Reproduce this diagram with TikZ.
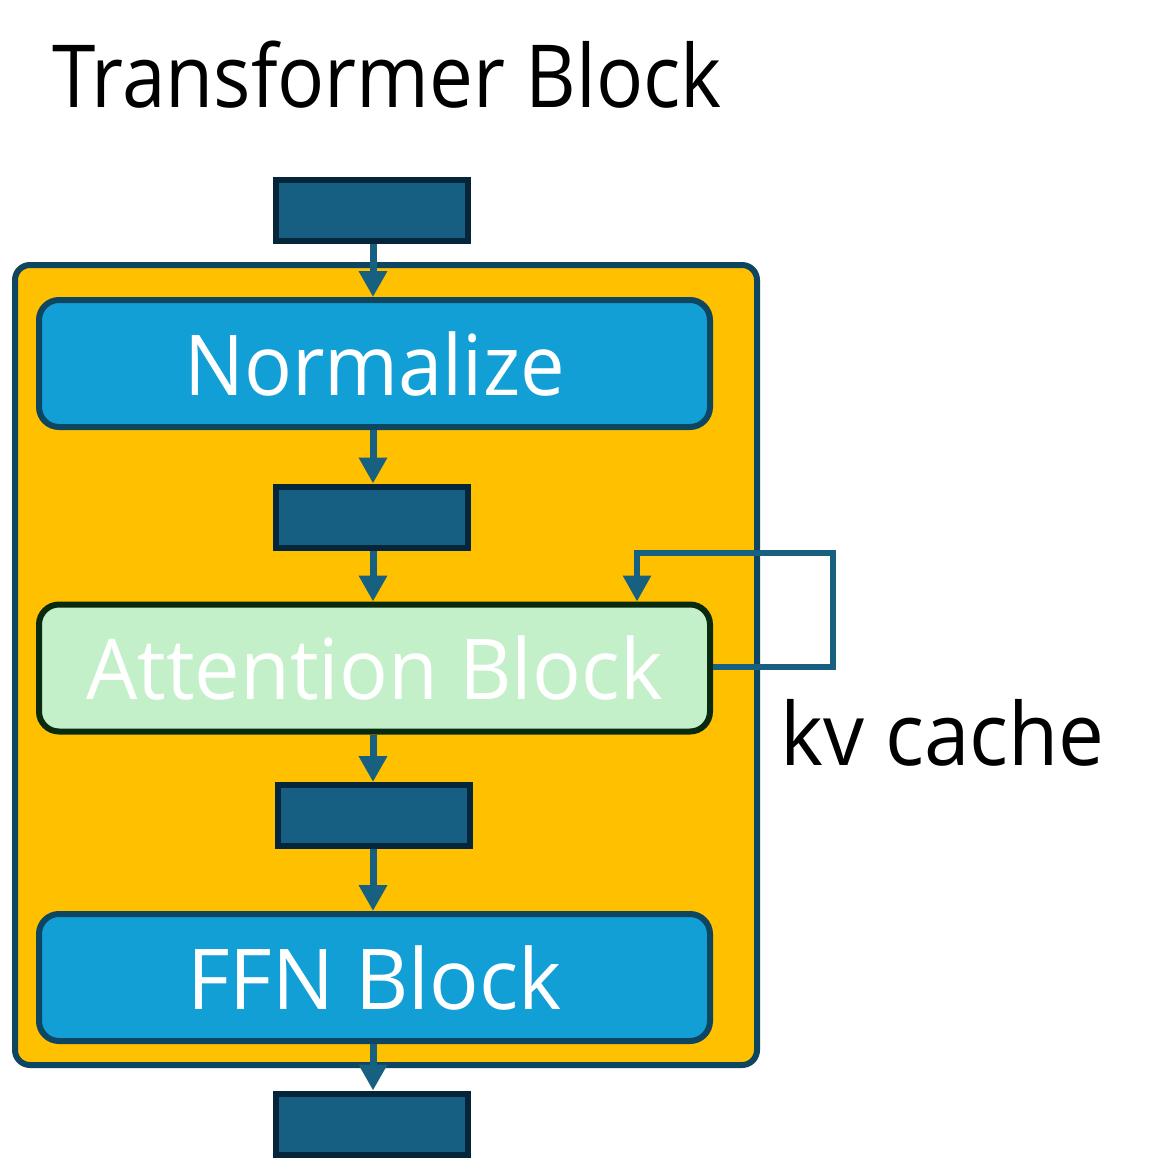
\documentclass[tikz,border=0pt]{standalone}
\usepackage{fontspec}
\usepackage{graphicx}
\setmainfont{Open Sans}
\usetikzlibrary{arrows.meta}
\definecolor{yel}{HTML}{FFC000}
\definecolor{frame}{HTML}{0E4560}
\definecolor{dark}{HTML}{05253A}
\definecolor{tensor}{HTML}{165F82}
\definecolor{blu}{HTML}{119FD6}
\definecolor{grn}{HTML}{C3F0C8}
\definecolor{grnb}{HTML}{0A2A10}
\definecolor{arr}{HTML}{17607F}
\begin{document}
\begin{tikzpicture}[x=1pt,y=-1pt,
  tensorbox/.style={draw=dark,fill=tensor,line width=6pt,minimum width=192pt,minimum height=61pt,inner sep=0pt},
  layerbox/.style={draw=frame,fill=blu,line width=6pt,rounded corners=20pt,minimum width=671pt,minimum height=127pt,inner sep=0pt,text=white,font=\fontsize{84}{90}\selectfont},
  flow/.style={draw=arr,line width=7pt,-{Triangle[width=27pt,length=26pt]}},
  lbl/.style={font=\fontsize{87}{95}\selectfont,inner sep=0pt}]
\useasboundingbox (0,0) rectangle (1155,1164);
\node[draw=frame,fill=yel,line width=6pt,rounded corners=15pt,minimum width=742pt,minimum height=800pt,inner sep=0pt] (outer) at (386,665) {};
\node[lbl,anchor=base west] (title) at (52,107) {\scalebox{0.9}[1]{Transformer Block}};
\node[tensorbox] (t1) at (372,210) {};
\node[layerbox] (norm) at (374.5,363.5) {\scalebox{0.947}[1]{Normalize}};
\node[tensorbox] (t2) at (372,517) {};
\node[layerbox,draw=grnb,fill=grn] (att) at (374.5,668) {\scalebox{0.966}[1]{Attention Block}};
\node[tensorbox] (t3) at (374,815.5) {};
\node[layerbox] (ffn) at (374.5,977.5) {\scalebox{0.98}[1]{FFN Block}};
\node[tensorbox] (t4) at (372,1124) {};
\node[lbl,anchor=base west] (kv) at (780,765) {\scalebox{0.94}[1]{kv cache}};
\coordinate (a1) at (373,0);
\draw[flow] (t1.south -| a1) -- (norm.north -| a1);
\draw[flow] (norm.south -| a1) -- (t2.north -| a1);
\draw[flow] (t2.south -| a1) -- (att.north -| a1);
\draw[flow] (att.south -| a1) -- (t3.north -| a1);
\draw[flow] (t3.south -| a1) -- (ffn.north -| a1);
\draw[flow] (ffn.south -| a1) -- (t4.north -| a1);
\coordinate (k1) at (833,667);
\coordinate (k2) at (833,553);
\coordinate (k3) at (637,553);
\draw[draw=arr,line width=6pt,-{Triangle[width=27pt,length=26pt]}] (att.east |- k1) -- (k1) -- (k2) -- (k3) -- (att.north -| k3);
\end{tikzpicture}
\end{document}
